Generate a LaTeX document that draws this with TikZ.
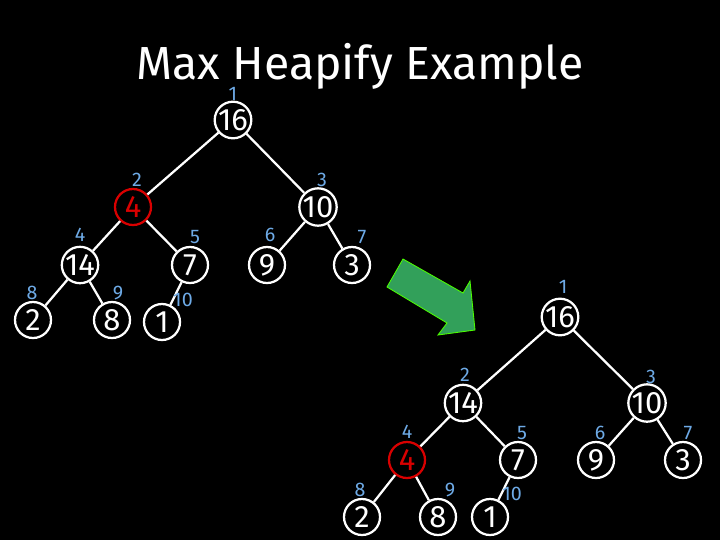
\documentclass[tikz,border=0pt]{standalone}
\usepackage{fontspec}
\setmainfont{Fira Sans}
\definecolor{idxblue}{RGB}{110,170,230}
\definecolor{arrowgreen}{RGB}{50,160,90}
\tikzset{
  heapnode/.style={circle, draw=white, line width=1.6pt, fill=black, text=white,
    minimum size=0.9cm, inner sep=0pt, font=\fontsize{22}{22}\selectfont},
  hotnode/.style={heapnode, draw=red!85!black, text=red!85!black},
  idx/.style={text=idxblue, font=\fontsize{14}{14}\selectfont, inner sep=0pt},
  edge/.style={draw=white, line width=1.6pt}
}
\begin{document}
\begin{tikzpicture}[x=0.025cm, y=-0.025cm]
    \fill[black] (0,0) rectangle (720,540);
    \useasboundingbox (0,0) rectangle (720,540);

    \node[text=white, font=\fontsize{33}{33}\selectfont] (title) at (360,66) {Max Heapify Example};

    % before
    \node[heapnode] (a1) at (233,120) {16};
    \node[hotnode]  (a2) at (133,207) {4};
    \node[heapnode] (a3) at (318,207) {10};
    \node[heapnode] (a4) at (80,265) {14};
    \node[heapnode] (a5) at (190,265) {7};
    \node[heapnode] (a6) at (267,265) {9};
    \node[heapnode] (a7) at (352,265) {3};
    \node[heapnode] (a8) at (33,320) {2};
    \node[heapnode] (a9) at (112,320) {8};
    \node[heapnode] (a10) at (162,322) {1};

    \draw[edge] (a1) -- (a2);
    \draw[edge] (a1) -- (a3);
    \draw[edge] (a2) -- (a4);
    \draw[edge] (a2) -- (a5);
    \draw[edge] (a3) -- (a6);
    \draw[edge] (a3) -- (a7);
    \draw[edge] (a4) -- (a8);
    \draw[edge] (a4) -- (a9);
    \draw[edge] (a5) -- (a10);

    \node[idx] at (233,94) {1};
    \node[idx] at (137,180) {2};
    \node[idx] at (322,180) {3};
    \node[idx] at (80,235) {4};
    \node[idx] at (195,237) {5};
    \node[idx] at (270,235) {6};
    \node[idx] at (362,237) {7};
    \node[idx] at (32,293) {8};
    \node[idx] at (118,293) {9};
    \node[idx] at (183,300) {10};

    % arrow
    \filldraw[fill=arrowgreen, draw=green!70!yellow, line width=0.6pt]
      (403,259) -- (463,293) -- (470,281) -- (475,330) -- (438,335)
      -- (447,323) -- (387,287) -- cycle;

    % after
    \node[heapnode] (b1) at (560,317) {16};
    \node[heapnode] (b2) at (463,403) {14};
    \node[heapnode] (b3) at (647,403) {10};
    \node[hotnode]  (b4) at (407,460) {4};
    \node[heapnode] (b5) at (518,460) {7};
    \node[heapnode] (b6) at (596,460) {9};
    \node[heapnode] (b7) at (683,460) {3};
    \node[heapnode] (b8) at (362,517) {2};
    \node[heapnode] (b9) at (438,517) {8};
    \node[heapnode] (b10) at (490,517) {1};

    \draw[edge] (b1) -- (b2);
    \draw[edge] (b1) -- (b3);
    \draw[edge] (b2) -- (b4);
    \draw[edge] (b2) -- (b5);
    \draw[edge] (b3) -- (b6);
    \draw[edge] (b3) -- (b7);
    \draw[edge] (b4) -- (b8);
    \draw[edge] (b4) -- (b9);
    \draw[edge] (b5) -- (b10);

    \node[idx] at (563,287) {1};
    \node[idx] at (465,375) {2};
    \node[idx] at (651,377) {3};
    \node[idx] at (407,432) {4};
    \node[idx] at (522,433) {5};
    \node[idx] at (600,433) {6};
    \node[idx] at (688,433) {7};
    \node[idx] at (360,490) {8};
    \node[idx] at (450,490) {9};
    \node[idx] at (512,494) {10};
\end{tikzpicture}
\end{document}
